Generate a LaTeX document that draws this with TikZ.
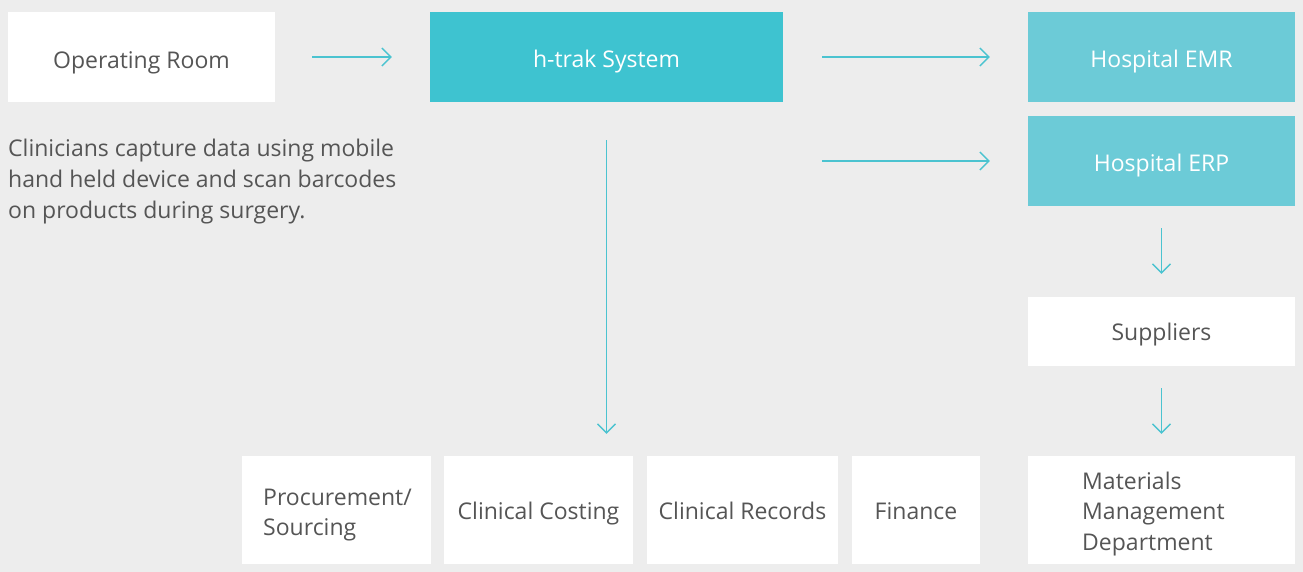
\documentclass[tikz,border=0pt]{standalone}
\usepackage{fontspec}
\setmainfont{Open Sans}
\usetikzlibrary{arrows.meta}
\definecolor{bg}{HTML}{EDEDED}
\definecolor{txt}{HTML}{555555}
\definecolor{teal}{HTML}{3EC3D0}
\definecolor{lteal}{HTML}{6CCBD7}
\definecolor{arr}{HTML}{4BC3D0}
\tikzset{
  box/.style={draw=none, fill=white, text=txt, inner sep=0pt, text height=18pt, text depth=0pt, font=\fontsize{23}{31}\selectfont},
  tbox/.style={box, fill=teal, text=white, text height=22pt},
  lbox/.style={box, fill=lteal, text=white, text height=22pt},
  mtext/.style={fill=none, text=txt, inner sep=0pt, anchor=base west, align=left, font=\fontsize{23}{30.8}\selectfont},
  conn/.style={draw=arr, line width=1.3pt, -{Straight Barb[length=9pt, width=18pt, line width=1.3pt]}},
}
\begin{document}
\begin{tikzpicture}[x=1pt, y=-1pt]
\fill[bg] (0,0) rectangle (1303,572);
\useasboundingbox (0,0) rectangle (1303,572);

\node[box, minimum width=267pt, minimum height=90pt, text height=24pt] (or) at (141.5,57) {Operating Room};
\node[tbox, minimum width=353pt, minimum height=90pt] (ht) at (606.5,57) {h-trak System};
\node[lbox, minimum width=267pt, minimum height=90pt] (emr) at (1161.5,57) {Hospital EMR};
\node[lbox, minimum width=267pt, minimum height=90pt] (erp) at (1161.5,161) {Hospital ERP};
\node[box, minimum width=267pt, minimum height=69pt] (sup) at (1161.5,331.5) {Suppliers};
\node[box, minimum width=267pt, minimum height=108pt] (mmd) at (1161.5,510) {};
\node[mtext] (mmdt) at (1082,550.6) {Materials\\Management\\Department};
\node[box, minimum width=189pt, minimum height=108pt] (proc) at (336.5,510) {};
\node[mtext] (proct) at (263,535.8) {Procurement/\\Sourcing};
\node[box, minimum width=189pt, minimum height=108pt] (cost) at (538.5,510) {Clinical Costing};
\node[box, minimum width=191pt, minimum height=108pt] (rec) at (742.5,510) {Clinical Records};
\node[box, minimum width=128pt, minimum height=108pt] (fin) at (916,510) {Finance};

\node[mtext] (desc) at (8,218.6) {Clinicians capture data using mobile\\hand held device and scan barcodes\\on products during surgery.};

\draw[conn, shorten <=37pt, shorten >=38pt] (or.east) -- (ht.west);
\draw[conn, shorten <=39pt, shorten >=38pt] (ht.east) -- (emr.west);
\draw[conn, shorten <=39pt, shorten >=38pt] (ht.east |- erp.west) -- (erp.west);
\draw[conn, shorten <=38pt, shorten >=22pt] (ht.south) -- (ht.south |- cost.north);
\draw[conn, shorten <=22pt, shorten >=23pt] (erp.south) -- (sup.north);
\draw[conn, shorten <=22pt, shorten >=22pt] (sup.south) -- (mmd.north);
\end{tikzpicture}
\end{document}
